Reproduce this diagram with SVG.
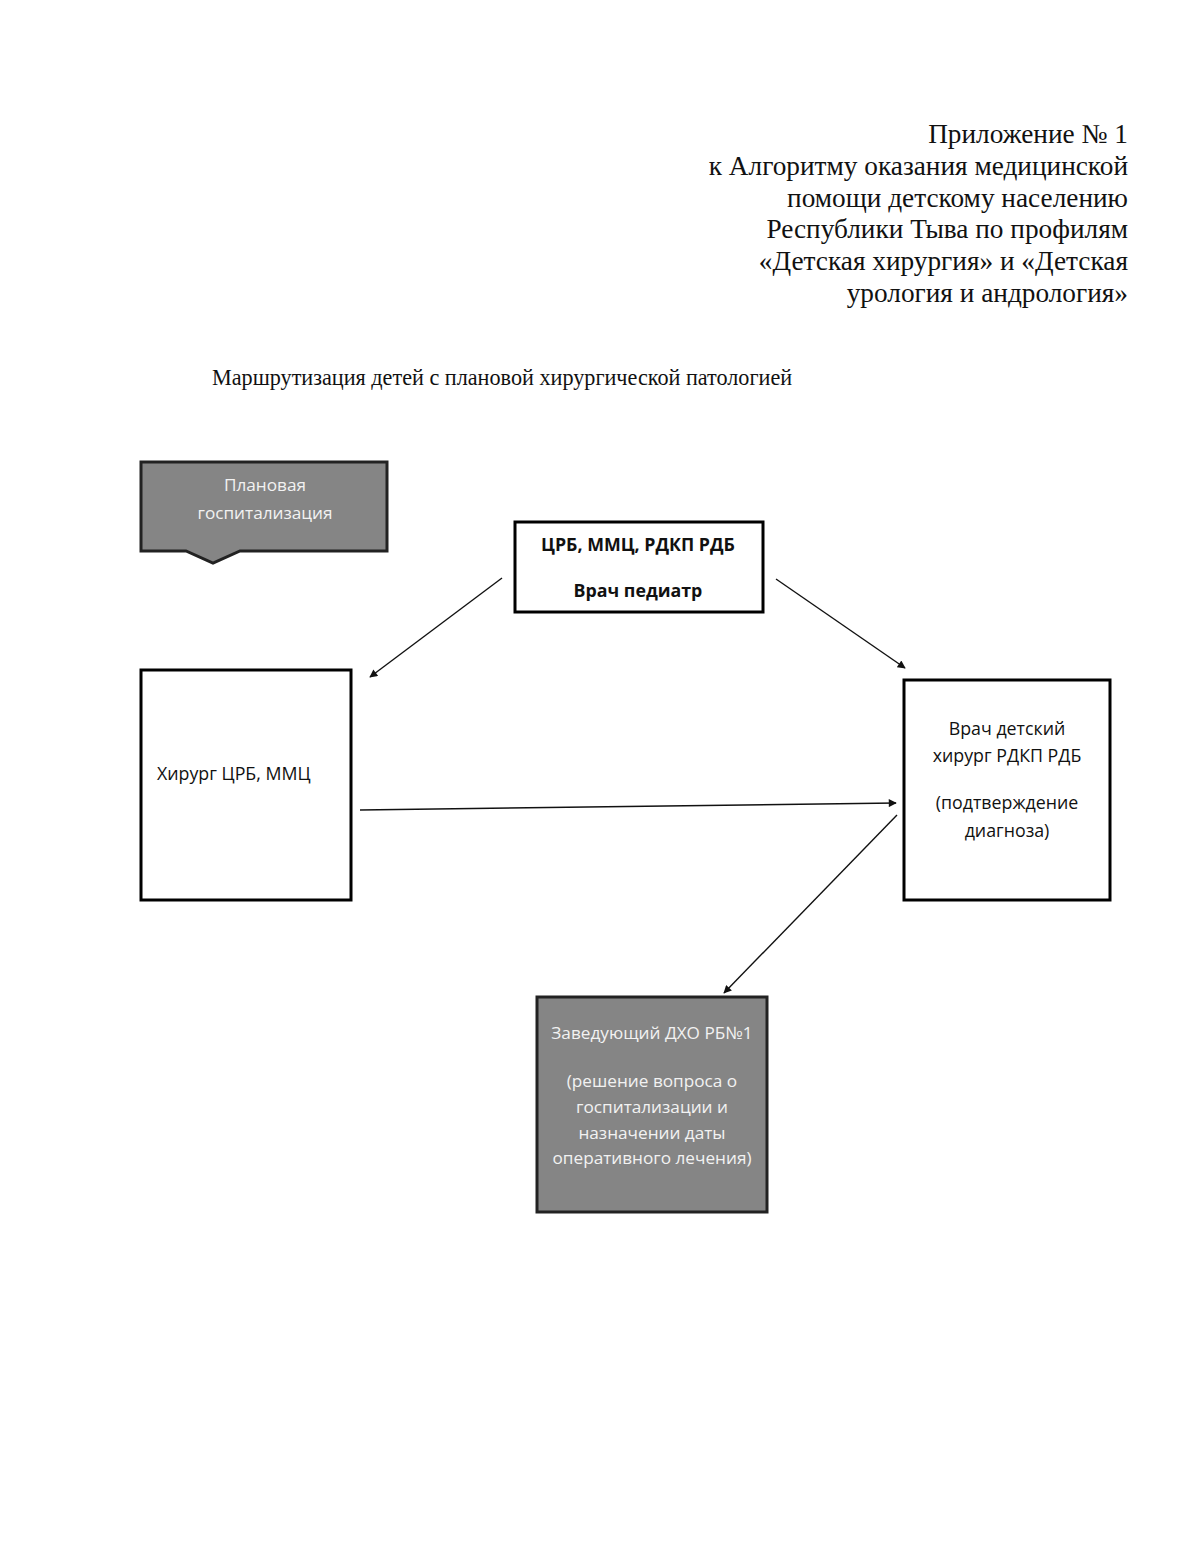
<svg xmlns="http://www.w3.org/2000/svg" width="1200" height="1552" viewBox="0 0 1200 1552">
<style>
.hdr{font-family:"Liberation Serif",serif;font-size:27.3px;fill:#111;text-anchor:end}
.ttl{font-family:"Liberation Serif",serif;font-size:22.2px;fill:#111}
.box{fill:#fff;stroke:#000;stroke-width:3}
.dark{fill:#858585;stroke:#222;stroke-width:3}
.t{font-family:"Open Sans","Liberation Sans",sans-serif;font-size:17.8px;fill:#111}
.tb{font-family:"Open Sans","Liberation Sans",sans-serif;font-size:17.8px;font-weight:bold;fill:#111;text-anchor:middle}
.tw{font-family:"Open Sans","Liberation Sans",sans-serif;font-size:17.2px;fill:#f2f2f2;text-anchor:middle}
.c{stroke:#111;stroke-width:1.4;fill:none;marker-end:url(#ah)}
</style>
<defs>
<marker id="ah" viewBox="0 0 10 10" refX="9" refY="5" markerWidth="11" markerHeight="8" markerUnits="userSpaceOnUse" orient="auto">
<path d="M0,0 L10,5 L0,10 z" fill="#111"/>
</marker>
</defs>
<rect width="1200" height="1552" fill="#fff"/>
<g id="header">
<text class="hdr" x="1128" y="143">Приложение № 1</text>
<text class="hdr" x="1128" y="175">к Алгоритму оказания медицинской</text>
<text class="hdr" x="1128" y="207">помощи детскому населению</text>
<text class="hdr" x="1128" y="238">Республики Тыва по профилям</text>
<text class="hdr" x="1128" y="270">«Детская хирургия» и «Детская</text>
<text class="hdr" x="1128" y="302">урология и андрология»</text>
</g>
<text class="ttl" x="212" y="385">Маршрутизация детей с плановой хирургической патологией</text>
<g id="n-planovaya">
<path class="dark" d="M141,462 H387 V551 H240 L213,563 L186,551 H141 Z"/>
<text class="tw" x="265" y="491">Плановая</text>
<text class="tw" x="265" y="519">госпитализация</text>
</g>
<g id="n-crb">
<rect class="box" x="515" y="522" width="248" height="90"/>
<text class="tb" x="638" y="551">ЦРБ, ММЦ, РДКП РДБ</text>
<text class="tb" x="638" y="597">Врач педиатр</text>
</g>
<g id="n-hirurg">
<rect class="box" x="141" y="670" width="210" height="230"/>
<text class="t" x="157" y="780">Хирург ЦРБ, ММЦ</text>
</g>
<g id="n-detsky">
<rect class="box" x="904" y="680" width="206" height="220"/>
<text class="t" x="1007" y="735" text-anchor="middle">Врач детский</text>
<text class="t" x="1007" y="762" text-anchor="middle">хирург РДКП РДБ</text>
<text class="t" x="1007" y="809" text-anchor="middle">(подтверждение</text>
<text class="t" x="1007" y="837" text-anchor="middle">диагноза)</text>
</g>
<g id="n-zav">
<rect class="dark" x="537" y="997" width="230" height="215"/>
<text class="tw" x="652" y="1039">Заведующий ДХО РБ№1</text>
<text class="tw" x="652" y="1087">(решение вопроса о</text>
<text class="tw" x="652" y="1113">госпитализации и</text>
<text class="tw" x="652" y="1139">назначении даты</text>
<text class="tw" x="652" y="1164">оперативного лечения)</text>
</g>
<g id="connectors">
<line class="c" x1="502" y1="578" x2="370" y2="677"/>
<line class="c" x1="776" y1="579" x2="905" y2="668"/>
<line class="c" x1="360" y1="810" x2="896" y2="803"/>
<line class="c" x1="897" y1="815" x2="724" y2="993"/>
</g>
</svg>
